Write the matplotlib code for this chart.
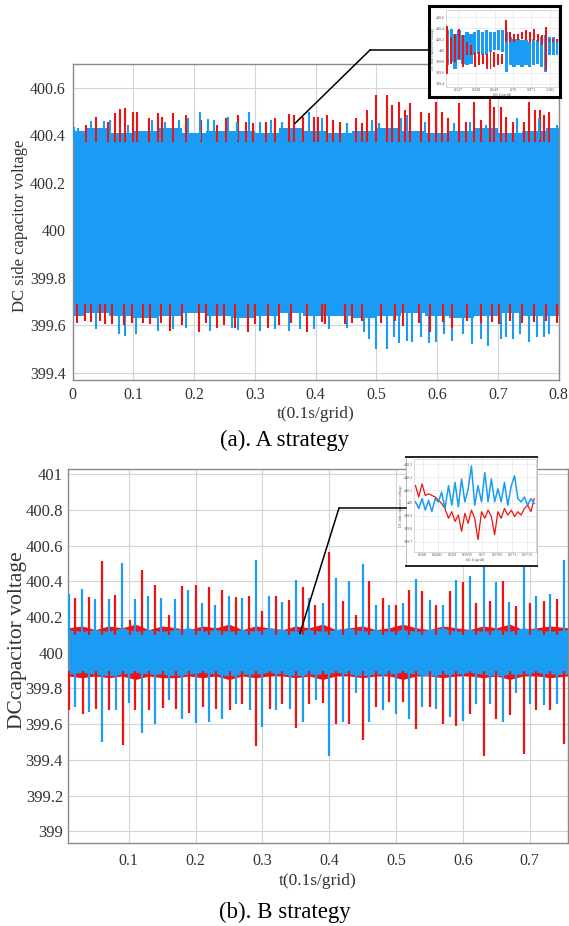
import matplotlib
matplotlib.use("Agg")
import matplotlib.pyplot as plt
from matplotlib.lines import Line2D

plt.rcParams["font.family"] = ["Liberation Serif", "DejaVu Serif"]

BLUE = "#1a9cf5"
RED = "#f01212"
TXT = "#333333"
GRID = "#d4d4d4"

# ---------------- (a) A strategy ----------------
t_env_a = [0.0, 0.04, 0.08, 0.12, 0.16, 0.2, 0.24, 0.28, 0.32, 0.36, 0.4,
           0.44, 0.48, 0.52, 0.56, 0.6, 0.64, 0.68, 0.72, 0.76, 0.8]
blue_top_a = [400.42, 400.43, 400.41, 400.42, 400.43, 400.41, 400.42, 400.42, 400.41, 400.43, 400.42,
              400.41, 400.42, 400.43, 400.42, 400.41, 400.42, 400.43, 400.41, 400.42, 400.43]
blue_bot_a = [399.64, 399.65, 399.64, 399.63, 399.64, 399.65, 399.64, 399.63, 399.64, 399.65, 399.64,
              399.64, 399.63, 399.64, 399.65, 399.64, 399.63, 399.64, 399.65, 399.64, 399.64]

red_up_t_a = [0.022, 0.039, 0.059, 0.070, 0.078, 0.086, 0.100, 0.106, 0.125, 0.140, 0.147, 0.166,
              0.187, 0.211, 0.238, 0.253, 0.273, 0.285, 0.297, 0.318, 0.333, 0.357, 0.364, 0.379,
              0.398, 0.404, 0.419, 0.428, 0.440, 0.467, 0.476, 0.485, 0.499, 0.517, 0.526, 0.538,
              0.547, 0.556, 0.574, 0.586, 0.598, 0.608, 0.618, 0.636, 0.648, 0.660, 0.672, 0.687,
              0.693, 0.705, 0.713, 0.725, 0.743, 0.752, 0.761, 0.770, 0.776, 0.785]
red_up_v_a = [400.443, 400.478, 400.457, 400.492, 400.509, 400.513, 400.499, 400.499, 400.471, 400.492,
              400.478, 400.492, 400.485, 400.464, 400.443, 400.471, 400.485, 400.457, 400.450, 400.457,
              400.471, 400.489, 400.485, 400.478, 400.478, 400.478, 400.485, 400.464, 400.457, 400.471,
              400.450, 400.506, 400.569, 400.569, 400.527, 400.541, 400.506, 400.534, 400.499, 400.492,
              400.541, 400.499, 400.471, 400.534, 400.457, 400.541, 400.464, 400.555, 400.520, 400.520,
              400.478, 400.457, 400.457, 400.541, 400.506, 400.506, 400.485, 400.499]

blue_up_t_a = [0.003, 0.009, 0.030, 0.051, 0.062, 0.092, 0.131, 0.152, 0.175, 0.190, 0.210, 0.223,
               0.232, 0.256, 0.271, 0.291, 0.309, 0.326, 0.345, 0.389, 0.410, 0.452, 0.493, 0.505,
               0.541, 0.550, 0.580, 0.627, 0.654, 0.681, 0.731, 0.767, 0.797]
blue_up_v_a = [400.436, 400.429, 400.461, 400.461, 400.464, 400.443, 400.464, 400.457, 400.464, 400.471,
               400.499, 400.467, 400.464, 400.478, 400.457, 400.499, 400.457, 400.464, 400.457, 400.499,
               400.471, 400.450, 400.464, 400.450, 400.471, 400.485, 400.457, 400.450, 400.457, 400.443,
               400.471, 400.471, 400.443]

red_dn_t_a = [0.007, 0.020, 0.030, 0.045, 0.054, 0.065, 0.085, 0.098, 0.116, 0.128, 0.145, 0.161,
              0.180, 0.208, 0.220, 0.238, 0.250, 0.268, 0.288, 0.300, 0.321, 0.340, 0.360, 0.386,
              0.410, 0.416, 0.449, 0.460, 0.476, 0.508, 0.530, 0.544, 0.570, 0.589, 0.610, 0.624,
              0.650, 0.672, 0.690, 0.702, 0.720, 0.740, 0.760, 0.780, 0.797]
red_dn_v_a = [399.611, 399.620, 399.615, 399.620, 399.604, 399.607, 399.600, 399.611, 399.611, 399.607,
              399.610, 399.577, 399.600, 399.570, 399.610, 399.590, 399.600, 399.590, 399.570, 399.605,
              399.590, 399.600, 399.610, 399.570, 399.615, 399.604, 399.604, 399.610, 399.618, 399.611,
              399.620, 399.597, 399.610, 399.570, 399.615, 399.590, 399.620, 399.611, 399.615, 399.604,
              399.620, 399.611, 399.615, 399.620, 399.611]

blue_dn_t_a = [0.039, 0.077, 0.086, 0.104, 0.140, 0.166, 0.186, 0.226, 0.262, 0.273, 0.309, 0.333,
               0.357, 0.375, 0.398, 0.422, 0.452, 0.479, 0.488, 0.499, 0.517, 0.529, 0.538, 0.550,
               0.559, 0.574, 0.586, 0.598, 0.612, 0.624, 0.642, 0.657, 0.672, 0.684, 0.705, 0.713,
               0.725, 0.737, 0.752, 0.764, 0.776, 0.785]
blue_dn_v_a = [399.586, 399.563, 399.556, 399.563, 399.577, 399.583, 399.590, 399.577, 399.590, 399.579,
               399.577, 399.586, 399.577, 399.583, 399.583, 399.583, 399.590, 399.570, 399.542, 399.501,
               399.501, 399.549, 399.524, 399.535, 399.528, 399.549, 399.524, 399.528, 399.563, 399.535,
               399.563, 399.521, 399.542, 399.514, 399.542, 399.549, 399.542, 399.563, 399.528, 399.549,
               399.549, 399.563]

# ---------------- (b) B strategy ----------------
t_env_b = [0.009, 0.03, 0.05, 0.07, 0.09, 0.11, 0.13, 0.15, 0.17, 0.19, 0.21, 0.23, 0.25, 0.27,
           0.29, 0.31, 0.33, 0.35, 0.37, 0.39, 0.41, 0.43, 0.45, 0.47, 0.49, 0.51, 0.53, 0.55,
           0.57, 0.59, 0.61, 0.63, 0.65, 0.67, 0.69, 0.71, 0.73, 0.757]
blue_top_b = [400.13, 400.12, 400.13, 400.12, 400.14, 400.12, 400.13, 400.12, 400.13, 400.14, 400.12, 400.13,
              400.12, 400.13, 400.12, 400.14, 400.13, 400.12, 400.13, 400.12, 400.13, 400.14, 400.12, 400.13,
              400.12, 400.13, 400.12, 400.13, 400.14, 400.12, 400.13, 400.12, 400.13, 400.12, 400.14, 400.13,
              400.12, 400.13]
blue_bot_b = [399.88, 399.89, 399.88, 399.87, 399.88, 399.89, 399.88, 399.88, 399.87, 399.88, 399.89, 399.88,
              399.87, 399.88, 399.88, 399.89, 399.88, 399.87, 399.88, 399.88, 399.89, 399.88, 399.87, 399.88,
              399.88, 399.89, 399.88, 399.87, 399.88, 399.88, 399.89, 399.88, 399.87, 399.88, 399.88, 399.89,
              399.88, 399.88]
red_top_b = [400.14, 400.15, 400.13, 400.15, 400.14, 400.16, 400.13, 400.15, 400.14, 400.13, 400.15, 400.14,
             400.16, 400.13, 400.15, 400.14, 400.13, 400.15, 400.14, 400.16, 400.13, 400.14, 400.15, 400.13,
             400.14, 400.16, 400.14, 400.13, 400.15, 400.14, 400.13, 400.15, 400.14, 400.16, 400.13, 400.14,
             400.15, 400.14]
red_bot_b = [399.87, 399.86, 399.87, 399.86, 399.87, 399.85, 399.87, 399.86, 399.86, 399.87, 399.86, 399.87,
             399.85, 399.87, 399.86, 399.87, 399.87, 399.86, 399.87, 399.85, 399.87, 399.87, 399.86, 399.87,
             399.87, 399.85, 399.87, 399.87, 399.86, 399.87, 399.87, 399.86, 399.87, 399.85, 399.87, 399.87,
             399.86, 399.87]

red_up_t_b = [0.020, 0.040, 0.060, 0.080, 0.102, 0.120, 0.140, 0.160, 0.179, 0.201, 0.220, 0.240, 0.261,
              0.280, 0.300, 0.320, 0.340, 0.360, 0.379, 0.399, 0.420, 0.440, 0.459, 0.480, 0.500, 0.520,
              0.539, 0.560, 0.580, 0.600, 0.620, 0.640, 0.660, 0.680, 0.700, 0.721, 0.740]
red_up_v_b = [400.307, 400.312, 400.512, 400.325, 400.186, 400.465, 400.381, 400.214, 400.376, 400.381,
              400.366, 400.350, 400.312, 400.316, 400.232, 400.316, 400.297, 400.368, 400.270, 400.562,
              400.288, 400.214, 400.400, 400.307, 400.270, 400.353, 400.344, 400.270, 400.344, 400.394,
              400.279, 400.288, 400.400, 400.264, 400.279, 400.292, 400.301]
blue_up_t_b = [0.010, 0.030, 0.049, 0.070, 0.090, 0.109, 0.129, 0.149, 0.169, 0.189, 0.209, 0.229, 0.250,
               0.270, 0.291, 0.310, 0.330, 0.350, 0.369, 0.390, 0.410, 0.429, 0.450, 0.470, 0.490, 0.510,
               0.530, 0.550, 0.570, 0.590, 0.610, 0.631, 0.650, 0.669, 0.691, 0.710, 0.730, 0.751]
blue_up_v_b = [400.329, 400.357, 400.301, 400.301, 400.503, 400.301, 400.316, 400.307, 400.301, 400.350,
               400.279, 400.270, 400.320, 400.307, 400.521, 400.320, 400.284, 400.409, 400.305, 400.279,
               400.419, 400.400, 400.499, 400.270, 400.270, 400.279, 400.413, 400.297, 400.270, 400.409,
               400.432, 400.503, 400.394, 400.283, 400.493, 400.316, 400.331, 400.521]
red_dn_t_b = [0.010, 0.031, 0.051, 0.070, 0.091, 0.109, 0.130, 0.151, 0.171, 0.190, 0.211, 0.231, 0.251,
              0.270, 0.291, 0.311, 0.330, 0.350, 0.369, 0.390, 0.410, 0.430, 0.450, 0.470, 0.490, 0.510,
              0.530, 0.550, 0.570, 0.590, 0.610, 0.631, 0.650, 0.670, 0.691, 0.710, 0.730, 0.751]
red_dn_v_b = [399.678, 399.655, 399.687, 399.678, 399.481, 399.682, 399.678, 399.691, 399.687, 399.663,
              399.697, 399.687, 399.682, 399.715, 399.475, 399.687, 399.715, 399.578, 399.715, 399.719,
              399.603, 399.603, 399.509, 399.697, 399.725, 399.725, 399.575, 399.697, 399.603, 399.588,
              399.659, 399.419, 399.631, 399.650, 399.430, 399.678, 399.678, 399.486]
blue_dn_t_b = [0.020, 0.040, 0.060, 0.081, 0.100, 0.120, 0.140, 0.160, 0.180, 0.201, 0.220, 0.240, 0.261,
               0.281, 0.300, 0.320, 0.341, 0.360, 0.380, 0.399, 0.420, 0.440, 0.459, 0.480, 0.500, 0.520,
               0.539, 0.560, 0.580, 0.600, 0.620, 0.640, 0.660, 0.680, 0.700, 0.721, 0.740]
blue_dn_v_b = [399.697, 399.669, 399.500, 399.682, 399.719, 399.550, 399.603, 399.738, 399.631, 399.607,
               399.612, 399.631, 399.715, 399.682, 399.584, 399.678, 399.687, 399.612, 399.734, 399.424,
               399.612, 399.772, 399.612, 399.682, 399.659, 399.631, 399.697, 399.687, 399.640, 399.616,
               399.715, 399.715, 399.612, 399.772, 399.715, 399.706, 399.715]

# ---------------- zoom insets ----------------
ins_t_a = [0.003, 0.048, 0.093, 0.139, 0.184, 0.229, 0.274, 0.319, 0.365, 0.410, 0.455, 0.500, 0.545,
           0.591, 0.636, 0.681, 0.726, 0.771, 0.817, 0.862, 0.907, 0.952, 0.997, 1.043, 1.088, 1.133,
           1.178, 1.223, 1.268]
ins_blue_hi_a = [400.36, 400.39, 400.30, 400.36, 400.27, 400.33, 400.30, 400.33, 400.36, 400.33, 400.36,
                 400.33, 400.33, 400.36, 400.36, 400.33, 400.24, 400.21, 400.21, 400.18, 400.18, 400.15,
                 400.21, 400.18, 400.24, 400.27, 400.24, 400.24, 400.21]
ins_blue_lo_a = [399.73, 399.79, 399.67, 399.82, 399.76, 399.73, 399.76, 399.91, 399.94, 399.91, 399.91,
                 399.97, 400.00, 400.00, 399.97, 399.61, 399.73, 399.70, 399.73, 399.70, 399.73, 399.70,
                 399.73, 399.76, 399.70, 399.61, 399.91, 399.91, 399.91]
ins_red_hi_a = [400.45, 400.24, 400.30, 400.39, 400.27, 400.15, 400.09, 399.97, 399.97, 399.94, 399.94,
                399.97, 399.97, 399.94, 399.94, 400.55, 400.33, 400.30, 400.30, 400.33, 400.36, 400.33,
                400.39, 400.30, 400.27, 400.42, 400.21, 400.21, 400.21]
ins_red_lo_a = [399.58, 399.76, 399.79, 399.85, 399.70, 399.91, 399.91, 399.70, 399.73, 399.76, 399.67,
                399.67, 399.70, 399.73, 399.76, 400.15, 400.15, 400.15, 400.18, 400.21, 400.18, 400.15,
                400.18, 400.15, 400.09, 399.64, 400.15, 400.15, 400.15]
ins_xt_a = [0.127, 0.338, 0.549, 0.760, 0.971, 1.182]
ins_xl_a = ["0.127", "0.338", "0.549", "0.76", "0.971", "1.182"]

ins_t_b = [0.56775, 0.56786, 0.56797, 0.56808, 0.56819, 0.56830, 0.56841, 0.56852, 0.56863, 0.56874,
           0.56886, 0.56897, 0.56908, 0.56919, 0.56930, 0.56941, 0.56952, 0.56963, 0.56974, 0.56985,
           0.56997, 0.57008, 0.57019, 0.57030, 0.57041, 0.57052, 0.57063, 0.57074, 0.57085, 0.57097,
           0.57108, 0.57119, 0.57130, 0.57141, 0.57152, 0.57163, 0.57174]
ins_blue_b = [400.008, 399.957, 400.033, 399.944, 400.020, 399.932, 400.033, 400.008, 400.084, 399.957,
              400.134, 399.982, 400.159, 399.970, 400.185, 400.008, 400.109, 400.286, 399.982, 400.134,
              400.008, 400.235, 400.008, 400.185, 400.008, 400.109, 400.008, 400.159, 399.982, 400.134,
              400.210, 400.033, 400.008, 400.046, 399.982, 400.033, 399.995]
ins_red_b = [400.134, 400.046, 400.147, 400.058, 400.071, 400.058, 400.046, 400.020, 399.995, 399.957,
             399.881, 399.932, 399.856, 399.906, 399.780, 399.919, 399.843, 399.944, 399.881, 399.716,
             399.932, 399.881, 399.944, 399.894, 399.754, 399.932, 399.881, 399.957, 399.906, 399.944,
             399.894, 399.932, 399.906, 399.957, 399.982, 399.932, 400.033]
ins_xt_b = [0.568, 0.5685, 0.569, 0.5695, 0.57, 0.5705, 0.571, 0.5715]


def style_axes(ax, size):
    ax.grid(True, color=GRID, lw=0.8)
    ax.set_axisbelow(True)
    for s in ax.spines.values():
        s.set_color("#8a8a8a")
        s.set_linewidth(1.0)
    ax.tick_params(length=0, labelsize=size, colors=TXT, pad=5)


fig = plt.figure(figsize=(5.69, 9.26), dpi=100)
W, H = 569.0, 926.0

# ---- panel (a)
ax1 = fig.add_axes([72.6 / W, 1 - 380 / H, 486 / W, 316 / H])
ax1.fill_between(t_env_a, blue_bot_a, blue_top_a, step="mid", color=BLUE, lw=0, zorder=2)
ax1.vlines(red_up_t_a, 400.37, red_up_v_a, colors=RED, lw=1.5, zorder=3)
ax1.vlines(red_dn_t_a, 399.69, red_dn_v_a, colors=RED, lw=1.5, zorder=3)
ax1.vlines(blue_up_t_a, 400.38, blue_up_v_a, colors=BLUE, lw=1.5, zorder=4)
ax1.vlines(blue_dn_t_a, 399.66, blue_dn_v_a, colors=BLUE, lw=1.5, zorder=2.5)
ax1.set_xlim(0, 0.8)
ax1.set_ylim(399.37, 400.70)
ax1.set_xticks([0, 0.1, 0.2, 0.3, 0.4, 0.5, 0.6, 0.7, 0.8])
ax1.set_xticklabels(["0", "0.1", "0.2", "0.3", "0.4", "0.5", "0.6", "0.7", "0.8"])
ax1.set_yticks([399.4, 399.6, 399.8, 400, 400.2, 400.4, 400.6])
ax1.set_yticklabels(["399.4", "399.6", "399.8", "400", "400.2", "400.4", "400.6"])
style_axes(ax1, 11.5)
ax1.set_xlabel("t(0.1s/grid)", fontsize=12.5, color=TXT, labelpad=2)
fig.text(20 / W, 1 - 226 / H, "DC side capacitor voltage", rotation=90, fontsize=12,
         color=TXT, ha="center", va="center")
fig.text(0.5, 1 - 440 / H, "(a). A strategy", fontsize=16.5, ha="center", va="center")

# ---- panel (b)
ax2 = fig.add_axes([67.9 / W, 1 - 843 / H, 500 / W, 373.7 / H])
ax2.fill_between(t_env_b, red_bot_b, red_top_b, color=RED, lw=0, zorder=1.5)
ax2.fill_between(t_env_b, blue_bot_b, blue_top_b, color=BLUE, lw=0, zorder=2)
ax2.vlines(red_up_t_b, 400.10, red_up_v_b, colors=RED, lw=1.6, zorder=3)
ax2.vlines(red_dn_t_b, 399.90, red_dn_v_b, colors=RED, lw=1.6, zorder=3)
ax2.vlines(blue_up_t_b, 400.10, blue_up_v_b, colors=BLUE, lw=1.6, zorder=3)
ax2.vlines(blue_dn_t_b, 399.90, blue_dn_v_b, colors=BLUE, lw=1.6, zorder=3)
ax2.set_xlim(0.009, 0.757)
ax2.set_ylim(398.934, 401.028)
ax2.set_xticks([0.1, 0.2, 0.3, 0.4, 0.5, 0.6, 0.7])
ax2.set_xticklabels(["0.1", "0.2", "0.3", "0.4", "0.5", "0.6", "0.7"])
yt_b = [399, 399.2, 399.4, 399.6, 399.8, 400, 400.2, 400.4, 400.6, 400.8, 401]
ax2.set_yticks(yt_b)
ax2.set_yticklabels(["399", "399.2", "399.4", "399.6", "399.8", "400", "400.2",
                     "400.4", "400.6", "400.8", "401"])
style_axes(ax2, 12)
ax2.tick_params(axis="y", pad=3.5)
ax2.tick_params(axis="x", labelsize=11.5, pad=7)
ax2.set_xlabel("t(0.1s/grid)", fontsize=12.5, color=TXT, labelpad=3)
fig.text(18 / W, 1 - 640 / H, "DCcapacitor voltage", rotation=90, fontsize=15.5,
         color=TXT, ha="center", va="center")
fig.text(0.5, 1 - 912 / H, "(b). B strategy", fontsize=16.5, ha="center", va="center")

# ---- inset (a)
fr1 = fig.add_axes([429 / W, 1 - 97 / H, 131 / W, 91 / H])
fr1.set_xticks([])
fr1.set_yticks([])
for s in fr1.spines.values():
    s.set_color("black")
    s.set_linewidth(2.2)
in1 = fig.add_axes([446 / W, 1 - 87 / H, 112 / W, 77 / H])
in1.bar(ins_t_a, [h - l for h, l in zip(ins_blue_hi_a, ins_blue_lo_a)], bottom=ins_blue_lo_a,
        width=0.038, color=BLUE, lw=0, zorder=2)
in1.bar(ins_t_a, [h - l for h, l in zip(ins_red_hi_a, ins_red_lo_a)], bottom=ins_red_lo_a,
        width=0.022, color=RED, lw=0, zorder=3)
in1.set_xlim(-0.012, 1.276)
in1.set_ylim(399.34, 400.73)
in1.set_xticks(ins_xt_a)
in1.set_xticklabels(ins_xl_a)
in1.set_yticks([399.4, 399.6, 399.8, 400, 400.2, 400.4, 400.6])
in1.set_yticklabels(["399.4", "399.6", "399.8", "400", "400.2", "400.4", "400.6"])
in1.grid(True, color="#e2e2e2", lw=0.4)
in1.set_axisbelow(True)
in1.tick_params(length=0, labelsize=3, colors="#555555", pad=1)
for s in in1.spines.values():
    s.set_color("#bbbbbb")
    s.set_linewidth(0.4)
in1.set_xlabel("t(0.1s/grid)", fontsize=3, color="#555555", labelpad=0.5)
in1.set_ylabel("DC side capacitor voltage", fontsize=3, color="#555555", labelpad=0.5)

# ---- inset (b)
fr2 = fig.add_axes([406 / W, 1 - 566 / H, 131 / W, 109 / H])
fr2.set_xticks([])
fr2.set_yticks([])
for k, s in fr2.spines.items():
    s.set_color("#222222" if k in ("top", "bottom") else "#b0b0b0")
    s.set_linewidth(1.4 if k in ("top", "bottom") else 0.6)
in2 = fig.add_axes([414 / W, 1 - 552 / H, 122 / W, 93 / H])
in2.plot(ins_t_b, ins_red_b, color=RED, lw=0.9, zorder=2)
in2.plot(ins_t_b, ins_blue_b, color=BLUE, lw=1.1, zorder=3)
in2.set_xlim(0.56770, 0.57180)
in2.set_ylim(399.62, 400.34)
in2.set_xticks(ins_xt_b)
in2.set_xticklabels(["0.568", "0.5685", "0.569", "0.5695", "0.57", "0.5705", "0.571", "0.5715"])
in2.set_yticks([399.7, 399.8, 399.9, 400, 400.1, 400.2, 400.3])
in2.set_yticklabels(["399.7", "399.8", "399.9", "400", "400.1", "400.2", "400.3"])
in2.grid(True, color="#e2e2e2", lw=0.4)
in2.set_axisbelow(True)
in2.tick_params(length=0, labelsize=3, colors="#555555", pad=1)
for s in in2.spines.values():
    s.set_color("#bbbbbb")
    s.set_linewidth(0.4)
in2.set_xlabel("t(0.1s/grid)", fontsize=3, color="#555555", labelpad=0.5)
in2.set_ylabel("DC side capacitor voltage", fontsize=3, color="#555555", labelpad=0.5)

# ---- leader lines to the zoomed views
ax1.annotate("", xy=(0.366, 400.45), xycoords="data",
             xytext=(370 / W, 1 - 50 / H), textcoords="figure fraction",
             arrowprops=dict(arrowstyle="-", color="black", lw=1.1, shrinkA=0, shrinkB=0),
             zorder=10)
fig.add_artist(Line2D([370 / W, 429 / W], [1 - 50 / H, 1 - 50 / H], color="black", lw=1.1))
ax2.annotate("", xy=(0.356, 400.107), xycoords="data",
             xytext=(339 / W, 1 - 508 / H), textcoords="figure fraction",
             arrowprops=dict(arrowstyle="-", color="black", lw=1.1, shrinkA=0, shrinkB=0),
             zorder=10)
fig.add_artist(Line2D([339 / W, 406 / W], [1 - 508 / H, 1 - 508 / H], color="black", lw=1.1))

fig.savefig("out.png", dpi=100)
